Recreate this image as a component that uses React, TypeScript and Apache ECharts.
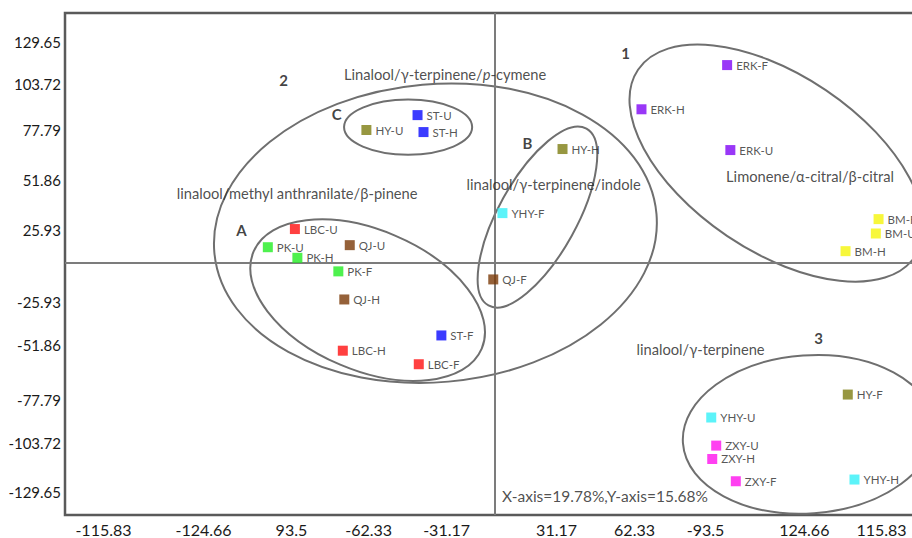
import React, { useEffect, useRef } from "react";
import * as echarts from "echarts";

// ---- tick labels (as printed in the figure) ----
const xTickPositions = [-157.5, -117.2, -81.8, -50.7, -19.3, 25.0, 56.4, 85.0, 124.8, 155.9];
const xTickLabels = ["-115.83", "-124.66", "93.5", "-62.33", "-31.17", "31.17", "62.33", "-93.5", "124.66", "115.83"];
const yTickPositions = [129.1, 104.6, 77.7, 48.5, 19.3, -22.8, -47.9, -80.0, -105.1, -133.8];
const yTickLabels = ["129.65", "103.72", "77.79", "51.86", "25.93", "-25.93", "-51.86", "-77.79", "-103.72", "-129.65"];

// ---- samples ----
const sampleNames = [
  "LBC-U", "LBC-H", "LBC-F", "PK-U", "PK-H", "PK-F", "QJ-U", "QJ-H", "QJ-F",
  "ST-U", "ST-H", "ST-F", "HY-U", "HY-H", "HY-F", "ERK-F", "ERK-H", "ERK-U",
  "YHY-F", "YHY-U", "YHY-H", "BM-F", "BM-U", "BM-H", "ZXY-U", "ZXY-H", "ZXY-F",
];
const sampleX = [
  -80.4, -61.1, -30.5, -91.3, -79.4, -62.9, -58.3, -60.5, -0.5,
  -31.0, -28.6, -21.4, -51.6, 27.4, 142.3, 93.7, 59.2, 95.0,
  3.2, 87.3, 145.0, 154.7, 153.6, 141.4, 89.3, 87.7, 97.2,
];
const sampleY = [
  19.9, -51.1, -59.0, 9.3, 3.1, -4.8, 10.5, -21.2, -9.5,
  86.4, 76.5, -42.2, 77.7, 66.6, -76.7, 115.6, 89.8, 66.0,
  29.2, -90.1, -126.3, 25.7, 17.3, 7.0, -106.5, -114.3, -127.3,
];
const varieties = ["LBC", "PK", "QJ", "ST", "HY", "ERK", "YHY", "BM", "ZXY"];
const varietyColors = ["#ff1010", "#22ee22", "#7a3a08", "#0a0aff", "#7d7d12", "#7f05f5", "#33f0f8", "#f5f50a", "#ff10ee"];

// ---- cluster ellipses ----
const ellipseCx = [113.6, -23.8, -51.1, 17.3, -34.8, 126.5];
const ellipseCy = [58.4, 17.5, -21.6, 26.9, 79.4, -99.9];
const ellipseRx = [67.3, 89.4, 49.9, 40.7, 25.8, 50.7];
const ellipseRy = [51.4, 87.0, 40.9, 22.8, 16.1, 46.1];
const ellipseAngle = [-34, 5, -23, 61, 0, 4];

// ---- annotations ----
const groupMarks = ["1", "2", "3", "A", "B", "C"];
const groupMarkX = [52.8, -85.0, 130.5, -101.9, 13.3, -63.6];
const groupMarkY = [122.7, 106.9, -43.8, 19.3, 70.1, 87.0];
const noteTexts = [
  "Linalool/γ-terpinene/{i|p}-cymene",
  "linalool/methyl anthranilate/β-pinene",
  "linalool/γ-terpinene/indole",
  "Limonene/α-citral/β-citral",
  "linalool/γ-terpinene",
];
const noteX = [-19.9, -79.5, 23.8, 127.1, 83.0];
const noteY = [110.5, 40.9, 46.1, 50.8, -50.2];
const varianceText = "X-axis=19.78%,Y-axis=15.68%";
const varianceX = 44.5;
const varianceY = -136.1;

const FONT = "Lato, 'Open Sans', sans-serif";

function nearestLabel(v: number, positions: number[], labels: string[]) {
  let best = -1;
  let bd = Infinity;
  positions.forEach((p, i) => {
    const d = Math.abs(p - v);
    if (d < bd) {
      bd = d;
      best = i;
    }
  });
  return bd < 0.5 ? labels[best] : "";
}

export default function App() {
  const ref = useRef<HTMLDivElement>(null);

  useEffect(() => {
    if (!ref.current) return;
    const chart = echarts.init(ref.current, null, { renderer: "svg" });

    const scatterSeries = varieties.map((v, vi) => ({
      type: "scatter",
      name: v,
      symbol: "rect",
      symbolSize: 10,
      itemStyle: { color: varietyColors[vi] },
      silent: true,
      label: {
        show: true,
        position: "right",
        distance: 4,
        formatter: "{b}",
        fontSize: 11.5,
        fontFamily: FONT,
        color: "#2a2a2a",
      },
      data: sampleNames
        .map((n, i) => ({ name: n, value: [sampleX[i], sampleY[i]] }))
        .filter((d) => d.name.split("-")[0] === v),
      z: 5,
    }));

    const option: any = {
      animation: false,
      backgroundColor: "#ffffff",
      grid: {
        left: 65,
        top: 13,
        right: -12,
        bottom: 23,
        show: true,
        borderColor: "#5a5a5a",
        borderWidth: 2.5,
        containLabel: false,
        outerBoundsMode: "none",
      },
      xAxis: {
        type: "value",
        min: -173,
        max: 173,
        axisLine: { show: false },
        axisTick: { show: false },
        splitLine: { show: false },
        axisLabel: {
          customValues: xTickPositions,
          formatter: (v: number) => nearestLabel(v, xTickPositions, xTickLabels),
          fontSize: 16,
          lineHeight: 15,
          fontFamily: FONT,
          color: "#1a1a1a",
          margin: 7,
        },
      },
      yAxis: {
        type: "value",
        min: -147,
        max: 146,
        axisLine: { show: false },
        axisTick: { show: false },
        splitLine: { show: false },
        axisLabel: {
          customValues: yTickPositions,
          formatter: (v: number) => nearestLabel(v, yTickPositions, yTickLabels),
          fontSize: 15,
          fontFamily: FONT,
          color: "#1a1a1a",
          margin: 4,
        },
      },
      series: [
        {
          type: "custom",
          name: "clusters",
          silent: true,
          clip: false,
          z: 3,
          data: ellipseCx.map((cx, i) => [cx, ellipseCy[i], ellipseRx[i], ellipseRy[i], ellipseAngle[i]]),
          renderItem: (params: any, api: any) => {
            const c = api.coord([api.value(0), api.value(1)]);
            const s = api.size([api.value(2), api.value(3)]);
            return {
              type: "ellipse",
              x: c[0],
              y: c[1],
              rotation: (api.value(4) * Math.PI) / 180,
              shape: { cx: 0, cy: 0, rx: s[0], ry: s[1] },
              style: { fill: "none", stroke: "#6f6f6f", lineWidth: 2 },
            };
          },
          markLine: {
            silent: true,
            symbol: ["none", "none"],
            label: { show: false },
            lineStyle: { color: "#7c7c7c", width: 2, type: "solid" },
            data: [{ xAxis: 0 }, { yAxis: 0 }],
          },
        },
        ...scatterSeries,
        {
          type: "scatter",
          name: "groupMarks",
          symbolSize: 0,
          silent: true,
          z: 6,
          label: {
            show: true,
            position: "inside",
            formatter: "{b}",
            fontSize: 15,
            fontWeight: "bold",
            fontFamily: FONT,
            color: "#111",
          },
          data: groupMarks.map((g, i) => ({ name: g, value: [groupMarkX[i], groupMarkY[i]] })),
        },
        {
          type: "scatter",
          name: "notes",
          symbolSize: 0,
          silent: true,
          z: 6,
          label: {
            show: true,
            position: "inside",
            formatter: "{b}",
            fontSize: 14.7,
            fontFamily: FONT,
            color: "#222",
            rich: { i: { fontStyle: "italic", fontSize: 14.7, fontFamily: FONT, color: "#222" } },
          },
          data: [
            ...noteTexts.map((t, i) => ({ name: t, value: [noteX[i], noteY[i]] })),
            {
              name: varianceText,
              value: [varianceX, varianceY],
              label: { fontSize: 15.5 },
            },
          ],
        },
      ],
    };

    chart.setOption(option);
    return () => chart.dispose();
  }, []);

  return (
    <div
      ref={ref}
      style={{ position: "fixed", left: 0, top: 0, width: 912, height: 538, background: "#fff" }}
    />
  );
}
